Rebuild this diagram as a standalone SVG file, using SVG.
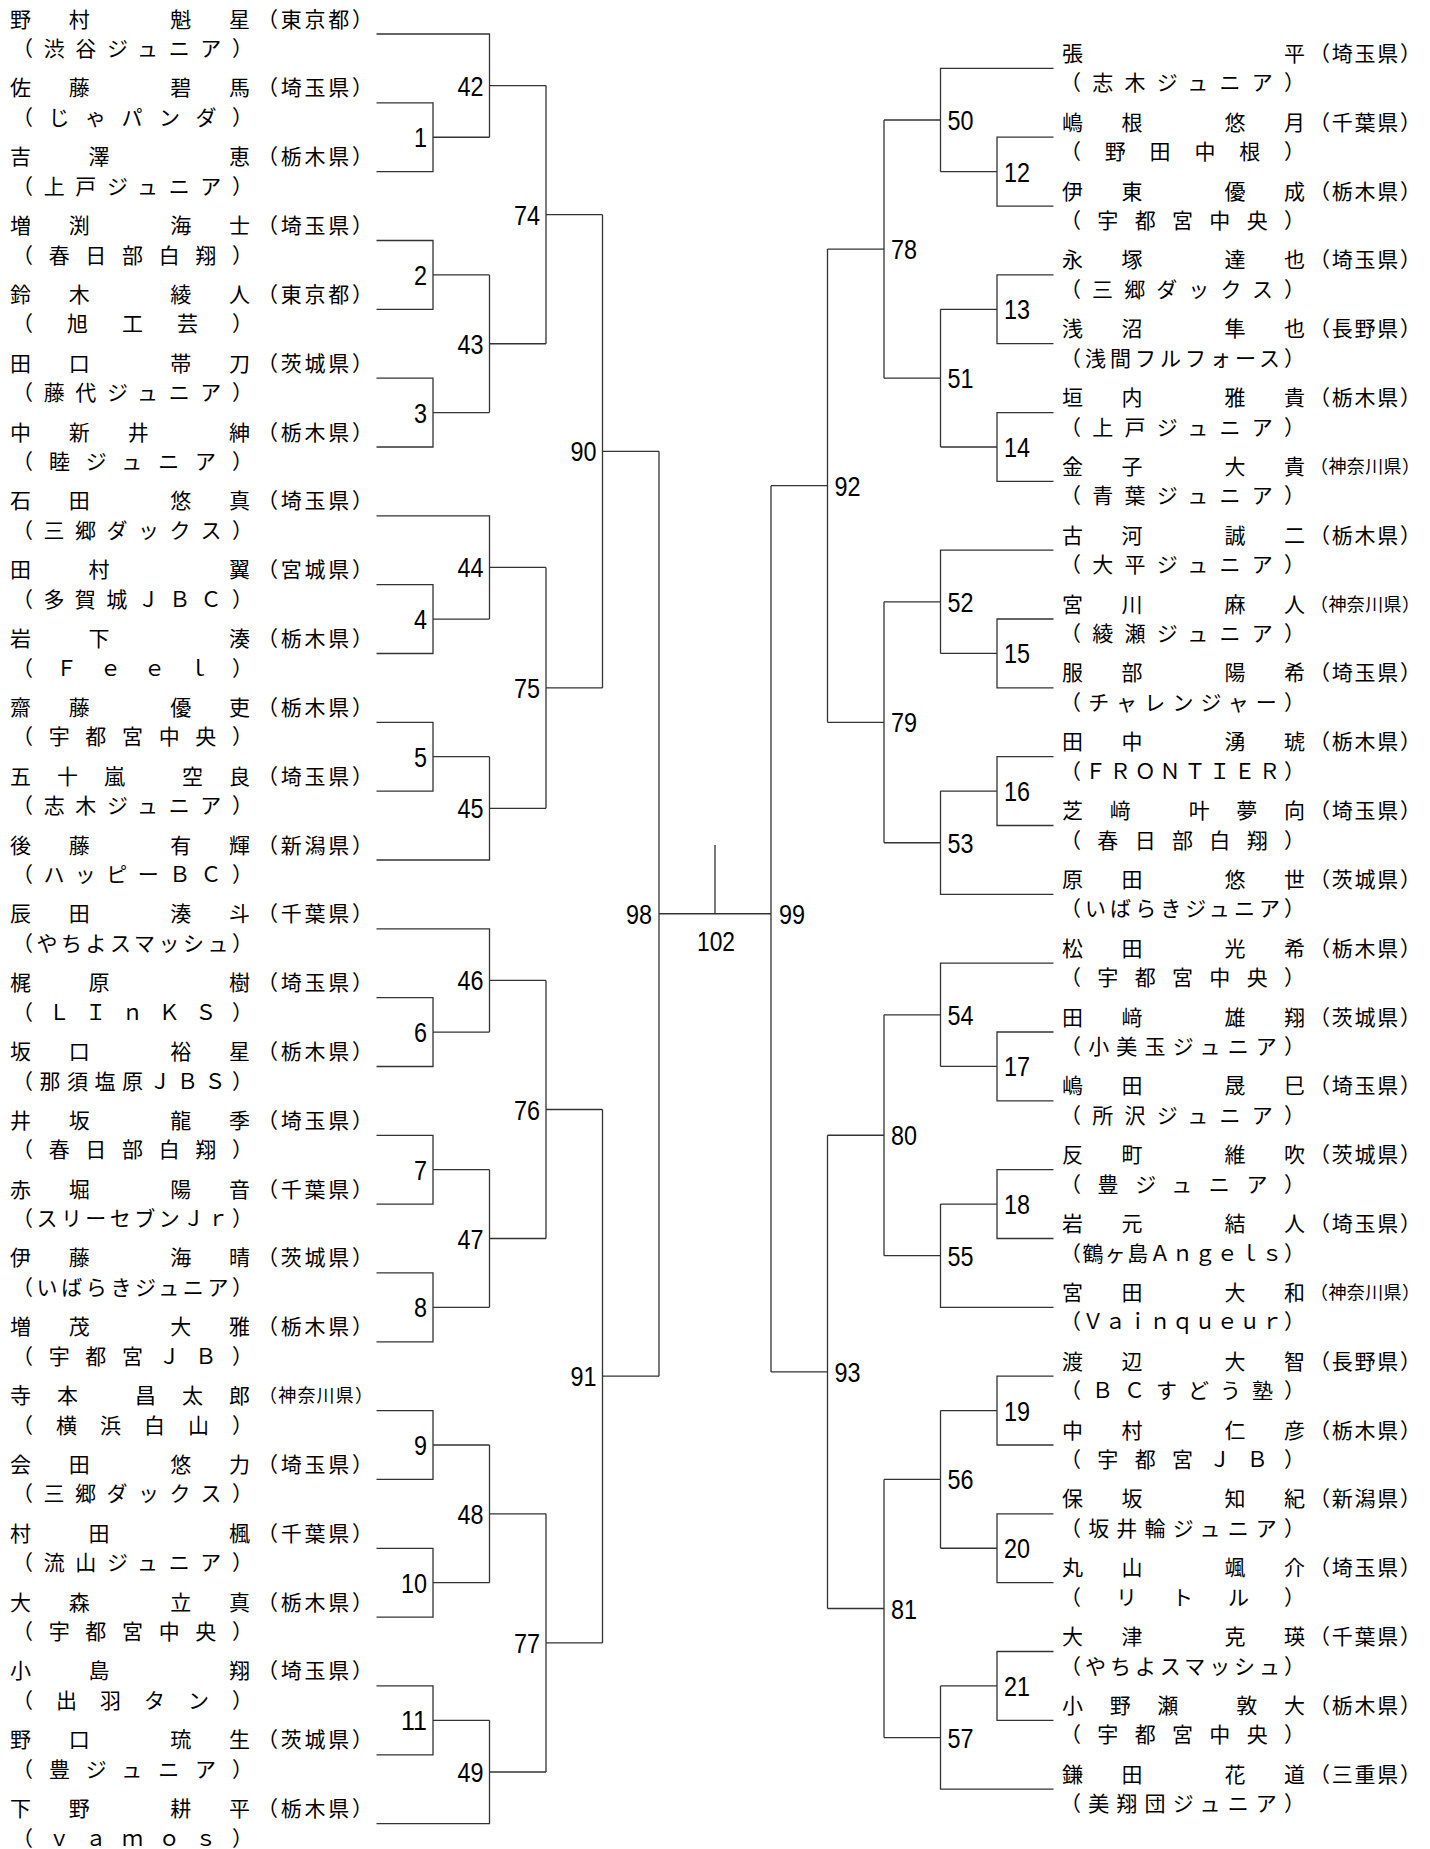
<svg xmlns="http://www.w3.org/2000/svg" width="1430" height="1849" viewBox="0 0 1430 1849">
<style>
.t{font-family:"Noto Sans CJK JP","Noto Sans CJK SC",sans-serif;font-size:21px;fill:#000}
.k{font-size:18px}
.m{font-family:"Liberation Sans",Arial,sans-serif;font-size:28px;fill:#000}
.e{text-anchor:end}
.c{fill:none;stroke:#333;stroke-width:1.3}
</style>
<rect width="1430" height="1849" fill="#fff"/>
<g id="connectors" class="c">
<path id="m1" d="M376.5 102.8H433V171.7H376.5M433 137.25H489.5"/>
<path id="m2" d="M376.5 240.5H433V309.3H376.5M433 274.9H489.5"/>
<path id="m3" d="M376.5 378.2H433V447H376.5M433 412.6H489.5"/>
<path id="m4" d="M376.5 584.6H433V653.5H376.5M433 619.05H489.5"/>
<path id="m5" d="M376.5 722.3H433V791.1H376.5M433 756.7H489.5"/>
<path id="m6" d="M376.5 997.6H433V1066.5H376.5M433 1032.05H489.5"/>
<path id="m7" d="M376.5 1135.3H433V1204.1H376.5M433 1169.7H489.5"/>
<path id="m8" d="M376.5 1272.9H433V1341.8H376.5M433 1307.35H489.5"/>
<path id="m9" d="M376.5 1410.6H433V1479.4H376.5M433 1445H489.5"/>
<path id="m10" d="M376.5 1548.3H433V1617.1H376.5M433 1582.7H489.5"/>
<path id="m11" d="M376.5 1685.9H433V1754.8H376.5M433 1720.35H489.5"/>
<path id="m42" d="M376.5 34H489.5V137.25M489.5 85.6H546"/>
<path id="m43" d="M489.5 274.9V412.6M489.5 343.75H546"/>
<path id="m44" d="M376.5 515.8H489.5V619.05M489.5 567.4H546"/>
<path id="m45" d="M489.5 756.7V860H376.5M489.5 808.35H546"/>
<path id="m46" d="M376.5 928.8H489.5V1032.05M489.5 980.4H546"/>
<path id="m47" d="M489.5 1169.7V1307.35M489.5 1238.5H546"/>
<path id="m48" d="M489.5 1445V1582.7M489.5 1513.85H546"/>
<path id="m49" d="M489.5 1720.35V1823.6H376.5M489.5 1772H546"/>
<path id="m74" d="M546 85.6V343.75M546 214.7H602.5"/>
<path id="m75" d="M546 567.4V808.35M546 687.9H602.5"/>
<path id="m76" d="M546 980.4V1238.5M546 1109.5H602.5"/>
<path id="m77" d="M546 1513.85V1772M546 1642.9H602.5"/>
<path id="m90" d="M602.5 214.7V687.9M602.5 451.3H659"/>
<path id="m91" d="M602.5 1109.5V1642.9M602.5 1376.2H659"/>
<path id="m98" d="M659 451.3V1376.2"/>
<path id="m102" d="M659 913.75H771M715 845V913.75"/>
<path id="m12" d="M1053.5 137.2H997V206.1H1053.5M997 171.65H940.5"/>
<path id="m13" d="M1053.5 274.9H997V343.7H1053.5M997 309.3H940.5"/>
<path id="m14" d="M1053.5 412.6H997V481.4H1053.5M997 447H940.5"/>
<path id="m15" d="M1053.5 619H997V687.9H1053.5M997 653.45H940.5"/>
<path id="m16" d="M1053.5 756.7H997V825.5H1053.5M997 791.1H940.5"/>
<path id="m17" d="M1053.5 1032H997V1100.9H1053.5M997 1066.45H940.5"/>
<path id="m18" d="M1053.5 1169.7H997V1238.5H1053.5M997 1204.1H940.5"/>
<path id="m19" d="M1053.5 1376.2H997V1445H1053.5M997 1410.6H940.5"/>
<path id="m20" d="M1053.5 1513.8H997V1582.7H1053.5M997 1548.25H940.5"/>
<path id="m21" d="M1053.5 1651.5H997V1720.3H1053.5M997 1685.9H940.5"/>
<path id="m50" d="M1053.5 68.4H940.5V171.65M940.5 120H884"/>
<path id="m51" d="M940.5 309.3V447M940.5 378.15H884"/>
<path id="m52" d="M1053.5 550.2H940.5V653.45M940.5 601.8H884"/>
<path id="m53" d="M940.5 791.1V894.4H1053.5M940.5 842.75H884"/>
<path id="m54" d="M1053.5 963.2H940.5V1066.45M940.5 1014.8H884"/>
<path id="m55" d="M940.5 1204.1V1307.3H1053.5M940.5 1255.7H884"/>
<path id="m56" d="M940.5 1410.6V1548.25M940.5 1479.4H884"/>
<path id="m57" d="M940.5 1685.9V1789.2H1053.5M940.5 1737.55H884"/>
<path id="m78" d="M884 120V378.15M884 249.1H827.5"/>
<path id="m79" d="M884 601.8V842.75M884 722.3H827.5"/>
<path id="m80" d="M884 1014.8V1255.7M884 1135.25H827.5"/>
<path id="m81" d="M884 1479.4V1737.55M884 1608.5H827.5"/>
<path id="m92" d="M827.5 249.1V722.3M827.5 485.7H771"/>
<path id="m93" d="M827.5 1135.25V1608.5M827.5 1371.9H771"/>
<path id="m99" d="M771 485.7V1371.9"/>
</g>
<g id="match-labels" class="m">
<text class="e" x="427" y="147.25" textLength="13" lengthAdjust="spacingAndGlyphs">1</text>
<text class="e" x="427" y="284.9" textLength="13" lengthAdjust="spacingAndGlyphs">2</text>
<text class="e" x="427" y="422.6" textLength="13" lengthAdjust="spacingAndGlyphs">3</text>
<text class="e" x="427" y="629.05" textLength="13" lengthAdjust="spacingAndGlyphs">4</text>
<text class="e" x="427" y="766.7" textLength="13" lengthAdjust="spacingAndGlyphs">5</text>
<text class="e" x="427" y="1042.05" textLength="13" lengthAdjust="spacingAndGlyphs">6</text>
<text class="e" x="427" y="1179.7" textLength="13" lengthAdjust="spacingAndGlyphs">7</text>
<text class="e" x="427" y="1317.35" textLength="13" lengthAdjust="spacingAndGlyphs">8</text>
<text class="e" x="427" y="1455" textLength="13" lengthAdjust="spacingAndGlyphs">9</text>
<text class="e" x="427" y="1592.7" textLength="26" lengthAdjust="spacingAndGlyphs">10</text>
<text class="e" x="427" y="1730.35" textLength="26" lengthAdjust="spacingAndGlyphs">11</text>
<text class="e" x="483.5" y="95.6" textLength="26" lengthAdjust="spacingAndGlyphs">42</text>
<text class="e" x="483.5" y="353.75" textLength="26" lengthAdjust="spacingAndGlyphs">43</text>
<text class="e" x="483.5" y="577.4" textLength="26" lengthAdjust="spacingAndGlyphs">44</text>
<text class="e" x="483.5" y="818.35" textLength="26" lengthAdjust="spacingAndGlyphs">45</text>
<text class="e" x="483.5" y="990.4" textLength="26" lengthAdjust="spacingAndGlyphs">46</text>
<text class="e" x="483.5" y="1248.5" textLength="26" lengthAdjust="spacingAndGlyphs">47</text>
<text class="e" x="483.5" y="1523.85" textLength="26" lengthAdjust="spacingAndGlyphs">48</text>
<text class="e" x="483.5" y="1782" textLength="26" lengthAdjust="spacingAndGlyphs">49</text>
<text class="e" x="540" y="224.7" textLength="26" lengthAdjust="spacingAndGlyphs">74</text>
<text class="e" x="540" y="697.9" textLength="26" lengthAdjust="spacingAndGlyphs">75</text>
<text class="e" x="540" y="1119.5" textLength="26" lengthAdjust="spacingAndGlyphs">76</text>
<text class="e" x="540" y="1652.9" textLength="26" lengthAdjust="spacingAndGlyphs">77</text>
<text class="e" x="596.5" y="461.3" textLength="26" lengthAdjust="spacingAndGlyphs">90</text>
<text class="e" x="596.5" y="1386.2" textLength="26" lengthAdjust="spacingAndGlyphs">91</text>
<text class="e" x="652" y="923.75" textLength="26" lengthAdjust="spacingAndGlyphs">98</text>
<text x="697" y="950.5" textLength="38" lengthAdjust="spacingAndGlyphs">102</text>
<text x="779" y="923.75" textLength="26" lengthAdjust="spacingAndGlyphs">99</text>
<text x="834.5" y="495.7" textLength="26" lengthAdjust="spacingAndGlyphs">92</text>
<text x="834.5" y="1381.9" textLength="26" lengthAdjust="spacingAndGlyphs">93</text>
<text x="891" y="259.1" textLength="26" lengthAdjust="spacingAndGlyphs">78</text>
<text x="891" y="732.3" textLength="26" lengthAdjust="spacingAndGlyphs">79</text>
<text x="891" y="1145.25" textLength="26" lengthAdjust="spacingAndGlyphs">80</text>
<text x="891" y="1618.5" textLength="26" lengthAdjust="spacingAndGlyphs">81</text>
<text x="947.5" y="130" textLength="26" lengthAdjust="spacingAndGlyphs">50</text>
<text x="947.5" y="388.15" textLength="26" lengthAdjust="spacingAndGlyphs">51</text>
<text x="947.5" y="611.8" textLength="26" lengthAdjust="spacingAndGlyphs">52</text>
<text x="947.5" y="852.75" textLength="26" lengthAdjust="spacingAndGlyphs">53</text>
<text x="947.5" y="1024.8" textLength="26" lengthAdjust="spacingAndGlyphs">54</text>
<text x="947.5" y="1265.7" textLength="26" lengthAdjust="spacingAndGlyphs">55</text>
<text x="947.5" y="1489.4" textLength="26" lengthAdjust="spacingAndGlyphs">56</text>
<text x="947.5" y="1747.55" textLength="26" lengthAdjust="spacingAndGlyphs">57</text>
<text x="1004" y="181.65" textLength="26" lengthAdjust="spacingAndGlyphs">12</text>
<text x="1004" y="319.3" textLength="26" lengthAdjust="spacingAndGlyphs">13</text>
<text x="1004" y="457" textLength="26" lengthAdjust="spacingAndGlyphs">14</text>
<text x="1004" y="663.45" textLength="26" lengthAdjust="spacingAndGlyphs">15</text>
<text x="1004" y="801.1" textLength="26" lengthAdjust="spacingAndGlyphs">16</text>
<text x="1004" y="1076.45" textLength="26" lengthAdjust="spacingAndGlyphs">17</text>
<text x="1004" y="1214.1" textLength="26" lengthAdjust="spacingAndGlyphs">18</text>
<text x="1004" y="1420.6" textLength="26" lengthAdjust="spacingAndGlyphs">19</text>
<text x="1004" y="1558.25" textLength="26" lengthAdjust="spacingAndGlyphs">20</text>
<text x="1004" y="1695.9" textLength="26" lengthAdjust="spacingAndGlyphs">21</text>
</g>
<g id="players-left" class="t">
<g id="L1" transform="translate(0 34)"><text x="10" y="-7.5" textLength="240">野村 魁星</text><text x="257" y="-7.5" textLength="116">（東京都）</text><text x="12" y="22" textLength="241">（渋谷ジュニア）</text></g>
<g id="L2" transform="translate(0 102.8)"><text x="10" y="-7.5" textLength="240">佐藤 碧馬</text><text x="257" y="-7.5" textLength="116">（埼玉県）</text><text x="12" y="22" textLength="241">（じゃパンダ）</text></g>
<g id="L3" transform="translate(0 171.7)"><text x="10" y="-7.5" textLength="240">吉澤 恵</text><text x="257" y="-7.5" textLength="116">（栃木県）</text><text x="12" y="22" textLength="241">（上戸ジュニア）</text></g>
<g id="L4" transform="translate(0 240.5)"><text x="10" y="-7.5" textLength="240">増渕 海士</text><text x="257" y="-7.5" textLength="116">（埼玉県）</text><text x="12" y="22" textLength="241">（春日部白翔）</text></g>
<g id="L5" transform="translate(0 309.3)"><text x="10" y="-7.5" textLength="240">鈴木 綾人</text><text x="257" y="-7.5" textLength="116">（東京都）</text><text x="12" y="22" textLength="241">（旭工芸）</text></g>
<g id="L6" transform="translate(0 378.2)"><text x="10" y="-7.5" textLength="240">田口 帯刀</text><text x="257" y="-7.5" textLength="116">（茨城県）</text><text x="12" y="22" textLength="241">（藤代ジュニア）</text></g>
<g id="L7" transform="translate(0 447)"><text x="10" y="-7.5" textLength="240">中新井 紳</text><text x="257" y="-7.5" textLength="116">（栃木県）</text><text x="12" y="22" textLength="241">（睦ジュニア）</text></g>
<g id="L8" transform="translate(0 515.8)"><text x="10" y="-7.5" textLength="240">石田 悠真</text><text x="257" y="-7.5" textLength="116">（埼玉県）</text><text x="12" y="22" textLength="241">（三郷ダックス）</text></g>
<g id="L9" transform="translate(0 584.6)"><text x="10" y="-7.5" textLength="240">田村 翼</text><text x="257" y="-7.5" textLength="116">（宮城県）</text><text x="12" y="22" textLength="241">（多賀城ＪＢＣ）</text></g>
<g id="L10" transform="translate(0 653.5)"><text x="10" y="-7.5" textLength="240">岩下 湊</text><text x="257" y="-7.5" textLength="116">（栃木県）</text><text x="12" y="22" textLength="241">（Ｆｅｅｌ）</text></g>
<g id="L11" transform="translate(0 722.3)"><text x="10" y="-7.5" textLength="240">齋藤 優吏</text><text x="257" y="-7.5" textLength="116">（栃木県）</text><text x="12" y="22" textLength="241">（宇都宮中央）</text></g>
<g id="L12" transform="translate(0 791.1)"><text x="10" y="-7.5" textLength="240">五十嵐 空良</text><text x="257" y="-7.5" textLength="116">（埼玉県）</text><text x="12" y="22" textLength="241">（志木ジュニア）</text></g>
<g id="L13" transform="translate(0 860)"><text x="10" y="-7.5" textLength="240">後藤 有輝</text><text x="257" y="-7.5" textLength="116">（新潟県）</text><text x="12" y="22" textLength="241">（ハッピーＢＣ）</text></g>
<g id="L14" transform="translate(0 928.8)"><text x="10" y="-7.5" textLength="240">辰田 湊斗</text><text x="257" y="-7.5" textLength="116">（千葉県）</text><text x="12" y="22" textLength="241">（やちよスマッシュ）</text></g>
<g id="L15" transform="translate(0 997.6)"><text x="10" y="-7.5" textLength="240">梶原 樹</text><text x="257" y="-7.5" textLength="116">（埼玉県）</text><text x="12" y="22" textLength="241">（ＬＩｎＫＳ）</text></g>
<g id="L16" transform="translate(0 1066.5)"><text x="10" y="-7.5" textLength="240">坂口 裕星</text><text x="257" y="-7.5" textLength="116">（栃木県）</text><text x="12" y="22" textLength="241">（那須塩原ＪＢＳ）</text></g>
<g id="L17" transform="translate(0 1135.3)"><text x="10" y="-7.5" textLength="240">井坂 龍季</text><text x="257" y="-7.5" textLength="116">（埼玉県）</text><text x="12" y="22" textLength="241">（春日部白翔）</text></g>
<g id="L18" transform="translate(0 1204.1)"><text x="10" y="-7.5" textLength="240">赤堀 陽音</text><text x="257" y="-7.5" textLength="116">（千葉県）</text><text x="12" y="22" textLength="241">（スリーセブンＪｒ）</text></g>
<g id="L19" transform="translate(0 1272.9)"><text x="10" y="-7.5" textLength="240">伊藤 海晴</text><text x="257" y="-7.5" textLength="116">（茨城県）</text><text x="12" y="22" textLength="241">（いばらきジュニア）</text></g>
<g id="L20" transform="translate(0 1341.8)"><text x="10" y="-7.5" textLength="240">増茂 大雅</text><text x="257" y="-7.5" textLength="116">（栃木県）</text><text x="12" y="22" textLength="241">（宇都宮ＪＢ）</text></g>
<g id="L21" transform="translate(0 1410.6)"><text x="10" y="-7.5" textLength="240">寺本 昌太郎</text><text class="k" x="259" y="-8.5" textLength="114">（神奈川県）</text><text x="12" y="22" textLength="241">（横浜白山）</text></g>
<g id="L22" transform="translate(0 1479.4)"><text x="10" y="-7.5" textLength="240">会田 悠力</text><text x="257" y="-7.5" textLength="116">（埼玉県）</text><text x="12" y="22" textLength="241">（三郷ダックス）</text></g>
<g id="L23" transform="translate(0 1548.3)"><text x="10" y="-7.5" textLength="240">村田 楓</text><text x="257" y="-7.5" textLength="116">（千葉県）</text><text x="12" y="22" textLength="241">（流山ジュニア）</text></g>
<g id="L24" transform="translate(0 1617.1)"><text x="10" y="-7.5" textLength="240">大森 立真</text><text x="257" y="-7.5" textLength="116">（栃木県）</text><text x="12" y="22" textLength="241">（宇都宮中央）</text></g>
<g id="L25" transform="translate(0 1685.9)"><text x="10" y="-7.5" textLength="240">小島 翔</text><text x="257" y="-7.5" textLength="116">（埼玉県）</text><text x="12" y="22" textLength="241">（出羽タン）</text></g>
<g id="L26" transform="translate(0 1754.8)"><text x="10" y="-7.5" textLength="240">野口 琉生</text><text x="257" y="-7.5" textLength="116">（茨城県）</text><text x="12" y="22" textLength="241">（豊ジュニア）</text></g>
<g id="L27" transform="translate(0 1823.6)"><text x="10" y="-7.5" textLength="240">下野 耕平</text><text x="257" y="-7.5" textLength="116">（栃木県）</text><text x="12" y="22" textLength="241">（ｖａｍｏｓ）</text></g>
</g>
<g id="players-right" class="t">
<g id="R1" transform="translate(0 68.4)"><text x="1062" y="-7.5" textLength="243">張 平</text><text x="1309" y="-7.5" textLength="112">（埼玉県）</text><text x="1060" y="22" textLength="245">（志木ジュニア）</text></g>
<g id="R2" transform="translate(0 137.2)"><text x="1062" y="-7.5" textLength="243">嶋根 悠月</text><text x="1309" y="-7.5" textLength="112">（千葉県）</text><text x="1060" y="22" textLength="245">（野田中根）</text></g>
<g id="R3" transform="translate(0 206.1)"><text x="1062" y="-7.5" textLength="243">伊東 優成</text><text x="1309" y="-7.5" textLength="112">（栃木県）</text><text x="1060" y="22" textLength="245">（宇都宮中央）</text></g>
<g id="R4" transform="translate(0 274.9)"><text x="1062" y="-7.5" textLength="243">永塚 達也</text><text x="1309" y="-7.5" textLength="112">（埼玉県）</text><text x="1060" y="22" textLength="245">（三郷ダックス）</text></g>
<g id="R5" transform="translate(0 343.7)"><text x="1062" y="-7.5" textLength="243">浅沼 隼也</text><text x="1309" y="-7.5" textLength="112">（長野県）</text><text x="1060" y="22" textLength="245">（浅間フルフォース）</text></g>
<g id="R6" transform="translate(0 412.6)"><text x="1062" y="-7.5" textLength="243">垣内 雅貴</text><text x="1309" y="-7.5" textLength="112">（栃木県）</text><text x="1060" y="22" textLength="245">（上戸ジュニア）</text></g>
<g id="R7" transform="translate(0 481.4)"><text x="1062" y="-7.5" textLength="243">金子 大貴</text><text class="k" x="1310" y="-8.5" textLength="110">（神奈川県）</text><text x="1060" y="22" textLength="245">（青葉ジュニア）</text></g>
<g id="R8" transform="translate(0 550.2)"><text x="1062" y="-7.5" textLength="243">古河 誠二</text><text x="1309" y="-7.5" textLength="112">（栃木県）</text><text x="1060" y="22" textLength="245">（大平ジュニア）</text></g>
<g id="R9" transform="translate(0 619)"><text x="1062" y="-7.5" textLength="243">宮川 麻人</text><text class="k" x="1310" y="-8.5" textLength="110">（神奈川県）</text><text x="1060" y="22" textLength="245">（綾瀬ジュニア）</text></g>
<g id="R10" transform="translate(0 687.9)"><text x="1062" y="-7.5" textLength="243">服部 陽希</text><text x="1309" y="-7.5" textLength="112">（埼玉県）</text><text x="1060" y="22" textLength="245">（チャレンジャー）</text></g>
<g id="R11" transform="translate(0 756.7)"><text x="1062" y="-7.5" textLength="243">田中 湧琥</text><text x="1309" y="-7.5" textLength="112">（栃木県）</text><text x="1060" y="22" textLength="245">（ＦＲＯＮＴＩＥＲ）</text></g>
<g id="R12" transform="translate(0 825.5)"><text x="1062" y="-7.5" textLength="243">芝﨑 叶夢向</text><text x="1309" y="-7.5" textLength="112">（埼玉県）</text><text x="1060" y="22" textLength="245">（春日部白翔）</text></g>
<g id="R13" transform="translate(0 894.4)"><text x="1062" y="-7.5" textLength="243">原田 悠世</text><text x="1309" y="-7.5" textLength="112">（茨城県）</text><text x="1060" y="22" textLength="245">（いばらきジュニア）</text></g>
<g id="R14" transform="translate(0 963.2)"><text x="1062" y="-7.5" textLength="243">松田 光希</text><text x="1309" y="-7.5" textLength="112">（栃木県）</text><text x="1060" y="22" textLength="245">（宇都宮中央）</text></g>
<g id="R15" transform="translate(0 1032)"><text x="1062" y="-7.5" textLength="243">田﨑 雄翔</text><text x="1309" y="-7.5" textLength="112">（茨城県）</text><text x="1060" y="22" textLength="245">（小美玉ジュニア）</text></g>
<g id="R16" transform="translate(0 1100.9)"><text x="1062" y="-7.5" textLength="243">嶋田 晟巳</text><text x="1309" y="-7.5" textLength="112">（埼玉県）</text><text x="1060" y="22" textLength="245">（所沢ジュニア）</text></g>
<g id="R17" transform="translate(0 1169.7)"><text x="1062" y="-7.5" textLength="243">反町 維吹</text><text x="1309" y="-7.5" textLength="112">（茨城県）</text><text x="1060" y="22" textLength="245">（豊ジュニア）</text></g>
<g id="R18" transform="translate(0 1238.5)"><text x="1062" y="-7.5" textLength="243">岩元 結人</text><text x="1309" y="-7.5" textLength="112">（埼玉県）</text><text x="1060" y="22" textLength="245">（鶴ヶ島Ａｎｇｅｌｓ）</text></g>
<g id="R19" transform="translate(0 1307.3)"><text x="1062" y="-7.5" textLength="243">宮田 大和</text><text class="k" x="1310" y="-8.5" textLength="110">（神奈川県）</text><text x="1060" y="22" textLength="245">（Ｖａｉｎｑｕｅｕｒ）</text></g>
<g id="R20" transform="translate(0 1376.2)"><text x="1062" y="-7.5" textLength="243">渡辺 大智</text><text x="1309" y="-7.5" textLength="112">（長野県）</text><text x="1060" y="22" textLength="245">（ＢＣすどう塾）</text></g>
<g id="R21" transform="translate(0 1445)"><text x="1062" y="-7.5" textLength="243">中村 仁彦</text><text x="1309" y="-7.5" textLength="112">（栃木県）</text><text x="1060" y="22" textLength="245">（宇都宮ＪＢ）</text></g>
<g id="R22" transform="translate(0 1513.8)"><text x="1062" y="-7.5" textLength="243">保坂 知紀</text><text x="1309" y="-7.5" textLength="112">（新潟県）</text><text x="1060" y="22" textLength="245">（坂井輪ジュニア）</text></g>
<g id="R23" transform="translate(0 1582.7)"><text x="1062" y="-7.5" textLength="243">丸山 颯介</text><text x="1309" y="-7.5" textLength="112">（埼玉県）</text><text x="1060" y="22" textLength="245">（リトル）</text></g>
<g id="R24" transform="translate(0 1651.5)"><text x="1062" y="-7.5" textLength="243">大津 克瑛</text><text x="1309" y="-7.5" textLength="112">（千葉県）</text><text x="1060" y="22" textLength="245">（やちよスマッシュ）</text></g>
<g id="R25" transform="translate(0 1720.3)"><text x="1062" y="-7.5" textLength="243">小野瀬 敦大</text><text x="1309" y="-7.5" textLength="112">（栃木県）</text><text x="1060" y="22" textLength="245">（宇都宮中央）</text></g>
<g id="R26" transform="translate(0 1789.2)"><text x="1062" y="-7.5" textLength="243">鎌田 花道</text><text x="1309" y="-7.5" textLength="112">（三重県）</text><text x="1060" y="22" textLength="245">（美翔団ジュニア）</text></g>
</g>
</svg>
